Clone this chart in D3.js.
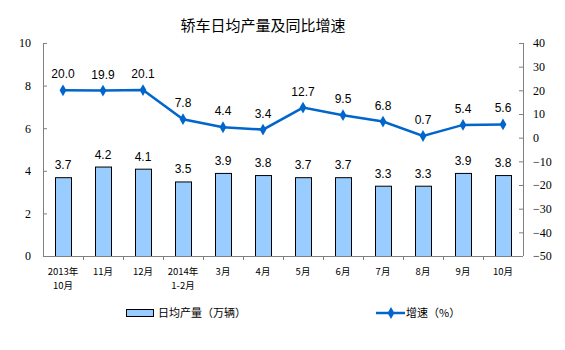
<!DOCTYPE html>
<html><head><meta charset="utf-8">
<script src="https://cdn.jsdelivr.net/npm/d3@7"></script>
<style>body{margin:0;background:#fff}svg{display:block}</style>
</head><body>
<script>
const categories = ["2013年\n10月","11月","12月","2014年\n1-2月","3月","4月","5月","6月","7月","8月","9月","10月"];
const dailyOutput = [3.7,4.2,4.1,3.5,3.9,3.8,3.7,3.7,3.3,3.3,3.9,3.8];
const growth = [20.0,19.9,20.1,7.8,4.4,3.4,12.7,9.5,6.8,0.7,5.4,5.6];
const leftTicks = [0,2,4,6,8,10];
const rightTicks = [-50,-40,-30,-20,-10,0,10,20,30,40];
const title = "轿车日均产量及同比增速";
const legendBar = "日均产量（万辆）";
const legendLine = "增速（%）";

const W=565,H=350, L=43, R=523, T=43, B=256;
const svg=d3.select("body").append("svg").attr("width",W).attr("height",H);
const x=d3.scaleBand().domain(d3.range(categories.length)).range([L,R]);
const yL=d3.scaleLinear().domain([0,10]).range([B,T]);
const yR=d3.scaleLinear().domain([-50,40]).range([B,T]);
const axisCol="#808080", lineCol="#0066cc";
const cjk="'Noto Sans CJK SC', sans-serif";

svg.append("text").attr("x",263).attr("y",31).attr("text-anchor","middle")
  .attr("font-family",cjk).attr("font-size",15).attr("fill","#000").text(title);

// Left axis
const gL=svg.append("g").attr("transform",`translate(${L},0)`)
  .call(d3.axisLeft(yL).tickValues(leftTicks).tickSize(-4).tickPadding(12).tickFormat(d3.format("d")));
// Right axis
const gR=svg.append("g").attr("transform",`translate(${R},0)`)
  .call(d3.axisRight(yR).tickValues(rightTicks).tickSize(-4).tickPadding(10).tickFormat(d3.format("d")));
[gL,gR].forEach(g=>{
  g.select(".domain").attr("stroke",axisCol).attr("d", null);
  g.selectAll(".tick line").attr("stroke",axisCol);
  g.selectAll(".tick text").attr("font-family","'Liberation Serif', serif").attr("font-size",12).attr("fill","#000");
});
svg.append("line").attr("x1",L+0.5).attr("x2",L+0.5).attr("y1",T).attr("y2",B).attr("stroke",axisCol);
svg.append("line").attr("x1",R+0.5).attr("x2",R+0.5).attr("y1",T).attr("y2",B).attr("stroke",axisCol);

// Bars
const bw=16;
svg.append("g").selectAll("rect").data(dailyOutput).join("rect")
  .attr("x",(d,i)=>x(i)+x.bandwidth()/2-bw/2+0.5)
  .attr("y",d=>yL(d)+0.5)
  .attr("width",bw).attr("height",d=>B-yL(d))
  .attr("fill","#99ccff").attr("stroke","#000").attr("stroke-width",1);

// Bottom axis
svg.append("line").attr("x1",L).attr("x2",R).attr("y1",B+0.5).attr("y2",B+0.5).attr("stroke",axisCol);
svg.append("g").selectAll("line").data(d3.range(1,categories.length)).join("line")
  .attr("x1",i=>x(i)+0.5).attr("x2",i=>x(i)+0.5).attr("y1",B).attr("y2",B+4).attr("stroke",axisCol);

// Bar labels
svg.append("g").selectAll("text").data(dailyOutput).join("text")
  .attr("x",(d,i)=>x(i)+x.bandwidth()/2).attr("y",d=>yL(d)-8)
  .attr("text-anchor","middle").attr("font-family","'Liberation Sans', Arial, sans-serif").attr("font-size",12)
  .attr("fill","#000").text(d=>d.toFixed(1));

// Line
const line=d3.line().x((d,i)=>x(i)+x.bandwidth()/2).y(d=>yR(d));
svg.append("path").datum(growth).attr("d",line).attr("fill","none").attr("stroke",lineCol).attr("stroke-width",2.5);
const diamond=d3.symbol().type(d3.symbolDiamond).size(40);
svg.append("g").selectAll("path").data(growth).join("path")
  .attr("d",diamond).attr("transform",(d,i)=>`translate(${x(i)+x.bandwidth()/2},${yR(d)})`).attr("fill",lineCol);
svg.append("g").selectAll("text").data(growth).join("text")
  .attr("x",(d,i)=>x(i)+x.bandwidth()/2).attr("y",d=>yR(d)-12)
  .attr("text-anchor","middle").attr("font-family","'Liberation Sans', Arial, sans-serif").attr("font-size",12)
  .attr("fill","#000").text(d=>d.toFixed(1));

// Category labels (each line its own text element)
const catLines=[];
categories.forEach((d,i)=>d.split("\n").forEach((p,j)=>catLines.push({i,j,p})));
svg.append("g").selectAll("text").data(catLines).join("text")
  .attr("x",d=>x(d.i)+x.bandwidth()/2).attr("y",d=>275+d.j*14)
  .attr("text-anchor","middle").attr("font-family",cjk).attr("font-size",9.5).attr("fill","#000")
  .text(d=>d.p);

// Legend
svg.append("rect").attr("x",126.5).attr("y",309.5).attr("width",27).attr("height",7).attr("fill","#99ccff").attr("stroke","#000");
svg.append("text").attr("x",158).attr("y",317).attr("font-family",cjk).attr("font-size",11).attr("fill","#000").text(legendBar);
svg.append("line").attr("x1",376).attr("x2",405).attr("y1",313).attr("y2",313).attr("stroke",lineCol).attr("stroke-width",2.5);
svg.append("path").attr("d",diamond).attr("transform","translate(391,313)").attr("fill",lineCol);
svg.append("text").attr("x",406).attr("y",317).attr("font-family",cjk).attr("font-size",11).attr("fill","#000").text(legendLine);
</script>
</body></html>
